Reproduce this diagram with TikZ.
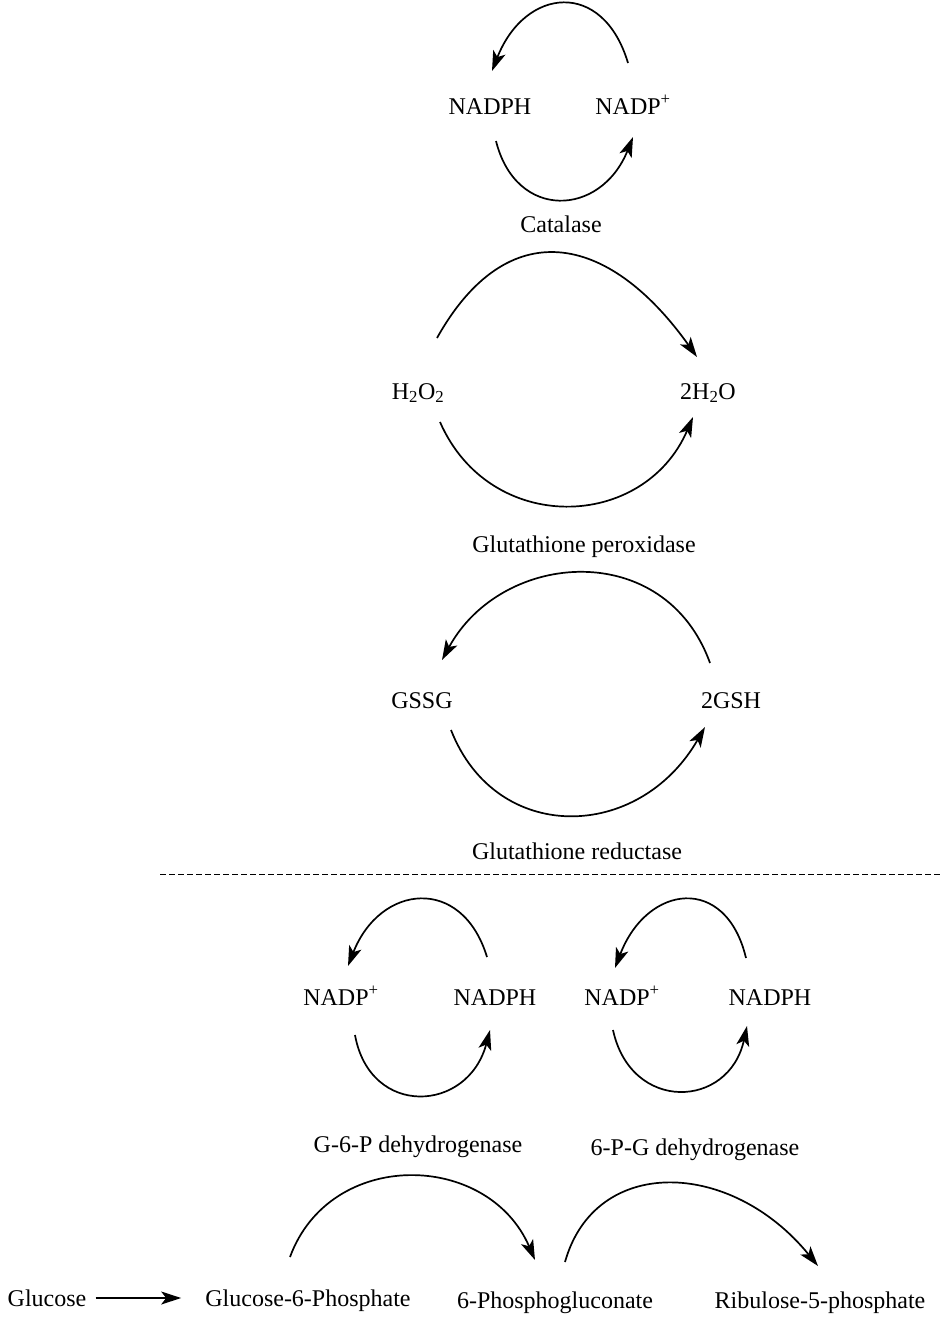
\documentclass[tikz,border=0pt]{standalone}
\usepackage{fontspec}
\setmainfont{Liberation Serif}
\usepackage{tikz}
\usetikzlibrary{arrows.meta, positioning, calc}

\tikzset{
  chem/.style={inner sep=0pt, text height=16pt, text depth=0pt, font=\fontsize{24}{28}\selectfont},
  enzyme/.style={chem},
  flow/.style={line width=1.7pt, -{Stealth[length=20pt, width=13pt, inset=5pt]}},
}

\begin{document}
\begin{tikzpicture}[x=1pt, y=-1pt]
  \useasboundingbox (0,0) rectangle (941,1318);

  % catalase cycle
  \node[chem] (nadphA) at (490,106) {NADPH};
  \node[chem] (nadpA) at (633,106) {NADP\textsuperscript{+}};
  \node[enzyme] (catalase) at (561,224) {Catalase};
  \draw[flow] ([shift={(-5,-43)}]nadpA.center) .. controls +(-25,-84) and +(33,-84) .. ([shift={(2,-35)}]nadphA.center);
  \draw[flow] ([shift={(6,35)}]nadphA.center) .. controls +(20,80) and +(-32,80) .. ([shift={(0,31)}]nadpA.center);

  % glutathione peroxidase
  \node[chem] (h2o2) at (418,391) {H\textsubscript{2}O\textsubscript{2}};
  \node[chem] (h2o) at (708,391) {2H\textsubscript{2}O};
  \node[enzyme] (gpx) at (584,544) {Glutathione peroxidase};
  \draw[flow] ([shift={(19,-53)}]h2o2.center) .. controls +(70,-125) and +(-89,-125) .. ([shift={(-11,-34)}]h2o.center);
  \draw[flow] ([shift={(22,31)}]h2o2.center) .. controls +(50,114) and +(-49,114) .. ([shift={(-15,26)}]h2o.center);

  % glutathione reductase
  \node[chem] (gssg) at (422,700) {GSSG};
  \node[chem] (gsh) at (731,700) {2GSH};
  \node[enzyme] (gr) at (577,851) {Glutathione reductase};
  \draw[flow] ([shift={(-21,-37)}]gsh.center) .. controls +(-45,-125) and +(60,-110) .. ([shift={(20,-40)}]gssg.center);
  \draw[flow] ([shift={(29,30)}]gssg.center) .. controls +(45,115) and +(-66,115) .. ([shift={(-26,27)}]gsh.center);

  \draw[line width=1pt, dash pattern=on 6pt off 3pt] (160,874) -- (941,874);

  % pentose phosphate side
  \node[chem] (nadpB) at (341,997) {NADP\textsuperscript{+}};
  \node[chem] (nadphB) at (495,997) {NADPH};
  \node[enzyme] (g6pd) at (418,1144) {G-6-P dehydrogenase};
  \draw[flow] ([shift={(-8,-40)}]nadphB.center) .. controls +(-25,-82) and +(32,-82) .. ([shift={(7,-31)}]nadpB.center);
  \draw[flow] ([shift={(14,38)}]nadpB.center) .. controls +(15,83) and +(-22,83) .. ([shift={(-5,33)}]nadphB.center);

  \node[chem] (nadpC) at (622,997) {NADP\textsuperscript{+}};
  \node[chem] (nadphC) at (770,997) {NADPH};
  \node[enzyme] (pgd) at (695,1147) {6-P-G dehydrogenase};
  \draw[flow] ([shift={(-24,-39)}]nadphC.center) .. controls +(-20,-84) and +(32,-84) .. ([shift={(-7,-29)}]nadpC.center);
  \draw[flow] ([shift={(-9,33)}]nadpC.center) .. controls +(18,83) and +(-18,83) .. ([shift={(-23,29)}]nadphC.center);

  \node[chem] (glucose) at (47,1298) {Glucose};
  \node[chem] (g6p) at (308,1298) {Glucose-6-Phosphate};
  \node[chem] (pgluc) at (555,1300) {6-Phosphogluconate};
  \node[chem] (ru5p) at (820,1300) {Ribulose-5-phosphate};
  \draw[flow, line width=1.3pt, shorten <=9pt, shorten >=24pt] (glucose) -- (g6p);
  \draw[flow] ([shift={(-18,-41)}]g6p.center) .. controls +(40,-109) and +(-47,-109) .. ([shift={(-20,-40)}]pgluc.center);
  \draw[flow] ([shift={(10,-38)}]pgluc.center) .. controls +(30,-107) and +(-87,-107) .. ([shift={(-2,-34)}]ru5p.center);
\end{tikzpicture}
\end{document}
